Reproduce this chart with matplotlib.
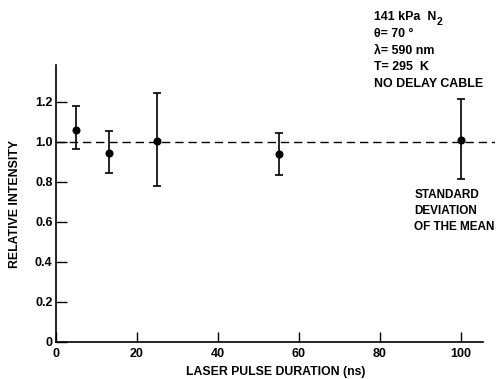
import numpy as np
import matplotlib
matplotlib.use("Agg")
import matplotlib.pyplot as plt

# data
duration = [5, 13, 25, 55, 100]            # ns
intensity = [1.06, 0.945, 1.007, 0.94, 1.01]
upper = [1.18, 1.055, 1.245, 1.045, 1.215]
lower = [0.965, 0.845, 0.78, 0.835, 0.815]
xticks = [0, 20, 40, 60, 80, 100]
yticks = [0, 0.2, 0.4, 0.6, 0.8, 1.0, 1.2]
ytick_labels = ['0', '0.2', '0.4', '0.6', '0.8', '1.0', '1.2']
info_lines = ['141 kPa  N', '\u03b8= 70 \u00b0', '\u03bb= 590 nm', 'T= 295  K', 'NO DELAY CABLE']
note_lines = ['STANDARD', 'DEVIATION', 'OF THE MEAN']

plt.rcParams['font.family'] = ['Liberation Sans', 'DejaVu Sans']
plt.rcParams['font.weight'] = 'bold'

fig = plt.figure(figsize=(4.99, 3.79), dpi=100)
ax = fig.add_axes([56/499, 37/379, (495-56)/499, (342-65)/379])

y = np.array(intensity)
yerr = [y - np.array(lower), np.array(upper) - y]
ax.errorbar(duration, y, yerr=yerr, fmt='o', color='black', ms=4.8,
            elinewidth=1.2, capsize=3, capthick=1.2, clip_on=False, zorder=3)
ax.axhline(1.0, color='black', lw=1.0, ls=(0, (6, 3.5)))

ax.set_xlim(0, 108.5)
ax.set_ylim(0, 1.385)
ax.set_xticks(xticks)
ax.set_yticks(yticks)
ax.set_yticklabels(ytick_labels)

for s in ['top', 'right']:
    ax.spines[s].set_visible(False)
for s in ['left', 'bottom']:
    ax.spines[s].set_linewidth(1.2)
ax.spines['bottom'].set_bounds(0, 105.5)

ax.tick_params(axis='y', direction='in', length=8, width=1.0, pad=2.5, labelsize=9)
ax.tick_params(axis='x', direction='in', length=7, width=1.0, pad=4, labelsize=9)

ax.set_xlabel('LASER PULSE DURATION (ns)', fontsize=8.8, fontweight='bold', labelpad=5)
ax.set_ylabel('RELATIVE INTENSITY', fontsize=8.8, fontweight='bold', labelpad=10)

# parameter block in the upper right
for i, line in enumerate(info_lines):
    ax.text(78.5, 1.625 - i*0.084, line, fontsize=8.9, fontweight='bold',
            ha='left', va='center')
# subscript 2 of N2
ax.text(94.1, 1.598, '2', fontsize=7.5, fontweight='bold', ha='left', va='center')

for i, line in enumerate(note_lines):
    ax.text(88.6, 0.735 - i*0.08, line, fontsize=8.5, fontweight='bold',
            ha='left', va='center')

fig.savefig('out.png', dpi=100)
